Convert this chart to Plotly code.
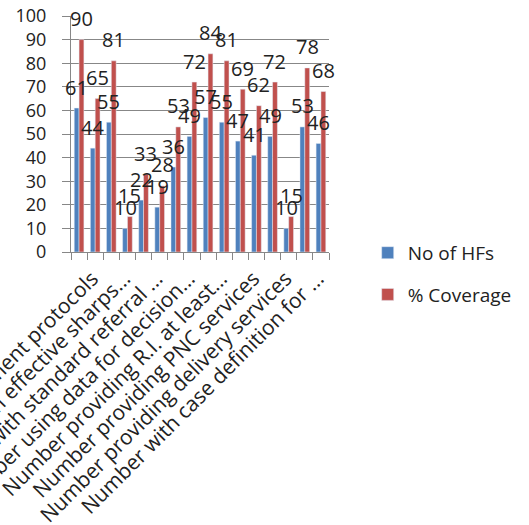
import plotly.graph_objects as go

positions = list(range(16))
hfs = [61, 44, 55, 10, 22, 19, 36, 49, 57, 55, 47, 41, 49, 10, 53, 46]
coverage = [90, 65, 81, 15, 33, 28, 53, 72, 84, 81, 69, 62, 72, 15, 78, 68]
label_positions = [0, 2, 4, 6, 8, 10, 12, 14]
tick_labels = [
    "Number with treatment protocols",
    "Number with effective sharps...",
    "Number with standard referral ...",
    "Number using data for decision...",
    "Number providing R.I. at least...",
    "Number providing PNC services",
    "Number providing delivery services",
    "Number with case definition for ...",
]
yticks = [0, 10, 20, 30, 40, 50, 60, 70, 80, 90, 100]

FONT = "Open Sans"
BLUE = "#4F81BD"
RED = "#C0504D"
GRID = "#878787"
BARGAP = 0.4
HALF = (1 - BARGAP) / 4  # centre offset of each bar within a group

fig = go.Figure()
fig.add_trace(go.Bar(x=positions, y=hfs, name="No of HFs",
                     marker_color=BLUE, legendgroup="a"))
fig.add_trace(go.Bar(x=positions, y=coverage, name="% Coverage",
                     marker_color=RED, legendgroup="b"))

annotations = []
for p, v in zip(positions, hfs):
    annotations.append(dict(x=p - HALF, y=v, text=str(v), showarrow=False,
                            xref="x", yref="y", yanchor="middle", yshift=21,
                            font=dict(family=FONT, size=20, color="#222")))
for p, v in zip(positions, coverage):
    annotations.append(dict(x=p + HALF, y=v, text=str(v), showarrow=False,
                            xref="x", yref="y", yanchor="middle", yshift=21,
                            font=dict(family=FONT, size=20, color="#222")))

fig.update_layout(
    width=529, height=525,
    margin=dict(l=71, r=183, t=16, b=273),
    paper_bgcolor="white", plot_bgcolor="white",
    barmode="group", bargap=BARGAP, bargroupgap=0,
    font=dict(family=FONT, color="#222"),
    showlegend=True,
    annotations=annotations,
    legend=dict(x=1.15, y=0.077, xanchor="left", yanchor="top",
                font=dict(family=FONT, size=19, color="#222"),
                tracegroupgap=14, bgcolor="rgba(0,0,0,0)"),
    xaxis=dict(
        range=[-0.5, 15.5], tickmode="array", tickvals=label_positions,
        ticktext=tick_labels, tickangle=-45, ticks="", showgrid=False,
        showline=True, linecolor=GRID, linewidth=1, zeroline=False,
        tickfont=dict(family=FONT, size=21, color="#222"), automargin=False,
        ticklabeloverflow="allow", ticklabelstandoff=5, ticklabelshift=13,
        minor=dict(tickvals=[p - 0.5 for p in positions] + [15.5],
                   ticks="outside", ticklen=7, tickcolor=GRID, showgrid=False),
    ),
    yaxis=dict(
        range=[0, 100], tickmode="array", tickvals=yticks,
        showgrid=True, gridcolor=GRID, gridwidth=1, zeroline=False,
        showline=True, linecolor=GRID, linewidth=1,
        ticks="outside", ticklen=8, tickcolor=GRID, ticklabelstandoff=12,
        tickfont=dict(family=FONT, size=18, color="#222"), automargin=False,
    ),
)

fig.write_html("out.html", config={"displayModeBar": False},
               post_script="document.body.style.margin='0';")
